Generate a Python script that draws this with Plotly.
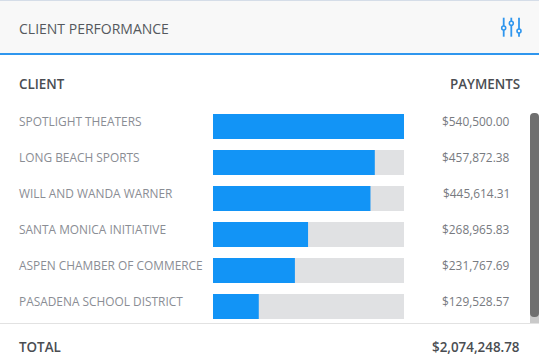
import plotly.graph_objects as go

clients = ["SPOTLIGHT THEATERS", "LONG BEACH SPORTS", "WILL AND WANDA WARNER",
           "SANTA MONICA INITIATIVE", "ASPEN CHAMBER OF COMMERCE", "PASADENA SCHOOL DISTRICT"]
payments = [540500.00, 457872.38, 445614.31, 268965.83, 231767.69, 129528.57]
total_label = "$2,074,248.78"
title = "CLIENT PERFORMANCE"
col_client = "CLIENT"
col_payments = "PAYMENTS"

W, H = 539, 362
FONT = "Open Sans"
BLUE = "#1294f6"
track = [max(payments)] * len(payments)

def px(x):
    return x / W

def py(y):
    return 1 - y / H

fig = go.Figure()
fig.add_bar(y=clients, x=track, orientation="h", marker=dict(color="#e0e1e3", line_width=0),
            width=0.694, hoverinfo="skip")
fig.add_bar(y=clients, x=payments, orientation="h", marker=dict(color=BLUE, line_width=0),
            width=0.694)

annotations = []

def text(x, y, s, size, color, anchor="left", yref="paper", weight=400, yshift=0):
    annotations.append(dict(x=px(x), y=y if yref != "paper" else py(y), xref="paper", yref=yref,
                            text=s, showarrow=False, xanchor=anchor, yanchor="middle",
                            xshift=0, yshift=yshift, align=anchor,
                            font=dict(family=FONT, size=size, color=color, weight=weight),
                            borderpad=0, borderwidth=0))

text(18.5, 28.5, title, 14, "#55585d")
text(18.5, 84.5, col_client, 13.4, "#4a4d52", weight=600)
text(519.5, 84.5, col_payments, 13.4, "#4a4d52", "right", weight=600)
for c, v in zip(clients, payments):
    text(18.5, c, c, 11.9, "#8a8d94", yref="y", yshift=6)
    text(509.5, c, f"${v:,.2f}", 11.9, "#777a80", "right", yref="y", yshift=6)
text(18.5, 347, "TOTAL", 13.4, "#4a4d52", weight=600)
text(519.5, 347, total_label, 13.4, "#4a4d52", "right", weight=600)

shapes = []

def rect(x0, y0, x1, y1, color):
    shapes.append(dict(type="rect", xref="paper", yref="paper", x0=px(x0), x1=px(x1),
                       y0=py(y0), y1=py(y1), fillcolor=color, line_width=0, layer="below"))

rect(0, 0, W, 1, "#d5dde8")
rect(0, 1, W, 53, "#f8f8f8")
rect(0, 53, W, 55, "#2f96ee")
rect(0, 323, W, 324, "#e2e2e2")
rect(530, 310, W, 323, "#c9c9c9")

# scrollbar thumb with rounded ends
x0, x1, y0, y1, r = 530, 539, 113, 317, 4
thumb = (f"M {px(x0)} {py(y0 + r)} Q {px(x0)} {py(y0)} {px(x0 + r)} {py(y0)} "
         f"L {px(x1 - r)} {py(y0)} Q {px(x1)} {py(y0)} {px(x1)} {py(y0 + r)} "
         f"L {px(x1)} {py(y1 - r)} Q {px(x1)} {py(y1)} {px(x1 - r)} {py(y1)} "
         f"L {px(x0 + r)} {py(y1)} Q {px(x0)} {py(y1)} {px(x0)} {py(y1 - r)} Z")
shapes.append(dict(type="path", xref="paper", yref="paper", path=thumb,
                   fillcolor="#6f6f6f", line_width=0, layer="below"))

# filter icon
ICON = "#2f96ee"
for x, yc in [(503.7, 28), (511.3, 23.3), (519, 31)]:
    shapes.append(dict(type="line", xref="paper", yref="paper", x0=px(x), x1=px(x), y0=py(17.7), y1=py(36.7),
                       line=dict(color=ICON, width=1.8)))
    shapes.append(dict(type="circle", xref="paper", yref="paper", x0=px(x - 2), x1=px(x + 2),
                       y0=py(yc + 2), y1=py(yc - 2), fillcolor="#f8f8f8",
                       line=dict(color=ICON, width=1.6)))

fig.update_layout(
    width=W, height=H, margin=dict(l=0, r=0, t=0, b=0), autosize=False,
    paper_bgcolor="white", plot_bgcolor="rgba(0,0,0,0)", barmode="overlay", showlegend=False,
    xaxis=dict(domain=[px(213), px(404)], range=[0, max(payments)], visible=False, fixedrange=True),
    yaxis=dict(domain=[py(324.5), py(108.5)], autorange="reversed", visible=False, fixedrange=True,
               type="category", categoryorder="array", categoryarray=clients),
    shapes=shapes, annotations=annotations,
)
fig.write_html("out.html", config=dict(displayModeBar=False),
               post_script="document.body.style.margin='0';document.body.style.overflow='hidden';")
